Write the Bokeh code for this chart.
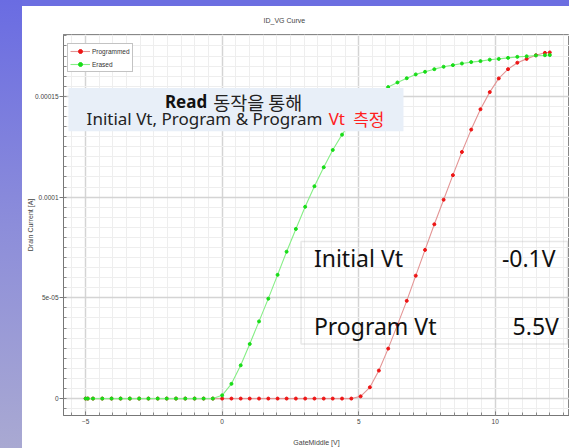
from bokeh.plotting import figure
from bokeh.models import (FixedTicker, SingleIntervalTicker, Legend, LegendItem,
                          BoxAnnotation, Label, Range1d, Div)
from bokeh.layouts import row, column
from bokeh.embed import file_html
from bokeh.resources import INLINE

# ---------------- data ----------------
gate_v = [-5.00, -4.92, -4.73, -4.39, -4.05, -3.72, -3.38, -3.04, -2.70, -2.36,
          -2.03, -1.69, -1.35, -1.01, -0.68, -0.34, 0.00, 0.34, 0.68, 1.01,
          1.35, 1.69, 2.03, 2.36, 2.70, 3.04, 3.38, 3.72, 4.05, 4.39,
          4.73, 5.07, 5.41, 5.74, 6.08, 6.42, 6.76, 7.09, 7.43, 7.77,
          8.11, 8.45, 8.78, 9.12, 9.46, 9.80, 10.13, 10.47, 10.81, 11.15,
          11.49, 11.82, 12.00]

erased = [0, 0, 0, 0, 0, 0, 0, 0, 0, 0,
          0, 0, 0, 0, 0, 0, 1.6e-6, 7.3e-6, 1.65e-5, 2.71e-5,
          3.83e-5, 4.96e-5, 6.14e-5, 7.29e-5, 8.42e-5, 9.52e-5, 1.054e-4, 1.148e-4, 1.234e-4, 1.310e-4,
          1.375e-4, 1.430e-4, 1.477e-4, 1.515e-4, 1.546e-4, 1.569e-4, 1.590e-4, 1.609e-4, 1.622e-4, 1.635e-4,
          1.647e-4, 1.655e-4, 1.663e-4, 1.670e-4, 1.675e-4, 1.682e-4, 1.686e-4, 1.691e-4, 1.696e-4, 1.699e-4,
          1.703e-4, 1.704e-4, 1.705e-4]

programmed = [0, 0, 0, 0, 0, 0, 0, 0, 0, 0,
              0, 0, 0, 0, 0, 0, 0, 0, 0, 0,
              0, 0, 0, 0, 0, 0, 0, 0, 0, 0,
              0, 1.1e-6, 5.6e-6, 1.39e-5, 2.48e-5, 3.66e-5, 4.85e-5, 6.10e-5, 7.38e-5, 8.65e-5,
              9.87e-5, 1.109e-4, 1.224e-4, 1.335e-4, 1.436e-4, 1.521e-4, 1.589e-4, 1.635e-4, 1.667e-4, 1.686e-4,
              1.704e-4, 1.716e-4, 1.718e-4]

series_names = ["Programmed", "Erased"]
y_tick_values = [0, 5e-05, 0.0001, 0.00015]
y_tick_labels = ["0", "5e-05", "0.0001", "0.00015"]

title_text = "ID_VG Curve"
x_label = "GateMiddle [V]"
y_label = "Drain Current [A]"

note_bold = "Read"
note_rest = " 동작을 통해"
note_line2 = "Initial Vt, Program & Program"
note_red1 = "Vt"
note_red2 = "측정"

table_rows = ["Initial Vt", "Program Vt"]
table_vals = ["-0.1V", "5.5V"]

# ---------------- figure ----------------
AX = "Liberation Sans"
p = figure(width=547, height=442, output_backend="svg", toolbar_location=None,
           x_range=Range1d(-5.81, 12.72), y_range=Range1d(-8.4e-6, 1.807e-4),
           min_border_left=41, min_border_right=0, min_border_top=28, min_border_bottom=32,
           background_fill_color="white", border_fill_color="white", margin=0)

# title: a trailing empty line lifts the text higher above the frame
p.title.text = title_text + "\n"
p.title.align = "left"
p.title.offset = 200
p.title.standoff = 8
p.title.text_font = AX
p.title.text_font_size = "7px"
p.title.text_font_style = "normal"
p.title.text_color = "#444444"

p.outline_line_color = "#888888"
p.outline_line_width = 1

# x axis
p.xaxis.ticker = SingleIntervalTicker(interval=5, num_minor_ticks=10)
p.xaxis.axis_label = x_label
p.xaxis.axis_label_text_font = AX
p.xaxis.axis_label_text_font_size = "7px"
p.xaxis.axis_label_text_font_style = "normal"
p.xaxis.axis_label_text_color = "#444444"
p.xaxis.axis_label_standoff = 12
p.xaxis.major_label_text_font = AX
p.xaxis.major_label_text_font_size = "6.5px"
p.xaxis.major_label_text_color = "#444444"
p.xaxis.major_label_standoff = 3
p.xaxis.major_tick_in = 4
p.xaxis.major_tick_out = 0
p.xaxis.minor_tick_in = 3
p.xaxis.minor_tick_out = 0
p.xaxis.axis_line_color = "#777777"
p.xaxis.major_tick_line_color = "#777777"
p.xaxis.minor_tick_line_color = "#888888"

# y axis
minor_y = [i * 5e-06 for i in range(-1, 37)]
p.yaxis.ticker = FixedTicker(ticks=y_tick_values, minor_ticks=minor_y)
p.yaxis.major_label_overrides = dict(zip(y_tick_values, y_tick_labels))
p.yaxis.axis_label = y_label
p.yaxis.axis_label_text_font = AX
p.yaxis.axis_label_text_font_size = "7px"
p.yaxis.axis_label_text_font_style = "normal"
p.yaxis.axis_label_text_color = "#444444"
p.yaxis.axis_label_standoff = -2
p.yaxis.major_label_text_font = AX
p.yaxis.major_label_text_font_size = "6.5px"
p.yaxis.major_label_text_color = "#444444"
p.yaxis.major_label_standoff = 1
p.yaxis.major_tick_in = 0
p.yaxis.major_tick_out = 4
p.yaxis.minor_tick_in = 3
p.yaxis.minor_tick_out = 0
p.yaxis.axis_line_color = "#777777"
p.yaxis.major_tick_line_color = "#777777"
p.yaxis.minor_tick_line_color = "#888888"

for g in (p.xgrid, p.ygrid):
    g.grid_line_color = "#d4d4d4"
    g.grid_line_width = 1.5
    g.minor_grid_line_color = "#eeeeee"
    g.minor_grid_line_width = 1

# ---------------- series ----------------
r_line = p.line(gate_v, programmed, line_color="#e39595", line_width=1.1)
r_pts = p.scatter(gate_v, programmed, marker="circle", size=3.0,
                  fill_color="#ee1515", line_color="#ee1515")
g_line = p.line(gate_v, erased, line_color="#86ee86", line_width=1.1)
g_pts = p.scatter(gate_v, erased, marker="circle", size=3.0,
                  fill_color="#18dd18", line_color="#18dd18")

legend = Legend(items=[LegendItem(label=series_names[0], renderers=[r_line, r_pts]),
                       LegendItem(label=series_names[1], renderers=[g_line, g_pts])],
                location=(4, 343), margin=0, padding=2, spacing=3,
                glyph_width=20, glyph_height=10, label_height=10, label_standoff=2,
                label_text_font=AX, label_text_font_size="6.5px",
                label_text_color="#333333",
                border_line_color="#888888", border_line_width=1,
                background_fill_color="white", background_fill_alpha=1)
p.add_layout(legend)

# ---------------- annotation box (top) ----------------
p.add_layout(BoxAnnotation(left=-5.63, right=6.64, bottom=1.327e-4, top=1.541e-4,
                           fill_color="#e8eff8", fill_alpha=1, line_color=None))

KR = "Noto Sans CJK KR"
LAT = "Noto Sans"
p.add_layout(Label(x=-0.55, y=1.472e-4, text=note_bold, text_font=LAT, text_font_size="17px",
                   text_font_style="bold", text_color="#111111",
                   text_align="right", text_baseline="middle"))
p.add_layout(Label(x=-0.33, y=1.472e-4, text=note_rest, text_font=KR, text_font_size="18.5px",
                   text_color="#222222", text_align="left", text_baseline="middle"))
p.add_layout(Label(x=3.67, y=1.389e-4, text=note_line2, text_font=LAT, text_font_size="17px",
                   text_color="#222222", text_align="right", text_baseline="middle"))
p.add_layout(Label(x=3.90, y=1.389e-4, text=note_red1, text_font=LAT, text_font_size="17px",
                   text_color="#ff2020", text_align="left", text_baseline="middle"))
p.add_layout(Label(x=4.80, y=1.389e-4, text=note_red2, text_font=KR, text_font_size="17px",
                   text_color="#ff2020", text_align="left", text_baseline="middle"))

# ---------------- table box (right) ----------------
p.add_layout(BoxAnnotation(left=2.89, right=12.65, bottom=2.71e-5, top=7.79e-5,
                           fill_alpha=0, line_color="#b4b4b4", line_width=1.5))
row_y = [6.96e-5, 3.58e-5]
val_x = [12.21, 12.33]
for i in range(2):
    p.add_layout(Label(x=3.36, y=row_y[i], text=table_rows[i], text_font=LAT,
                       text_font_size="23px", text_color="#111111",
                       text_align="left", text_baseline="middle"))
    p.add_layout(Label(x=val_x[i], y=row_y[i], text=table_vals[i], text_font=LAT,
                       text_font_size="23px", text_color="#111111",
                       text_align="right", text_baseline="middle"))

# ---------------- slide background strips ----------------
left_strip = Div(text="", width=22, height=448, margin=0,
                 styles={"background": "linear-gradient(180deg, #6a6ce2 0%, #8c8dda 50%, #a9a9d2 100%)"})
top_strip = Div(text="", width=547, height=6, margin=0,
                styles={"background": "#6c6ee1"})

layout = row(left_strip, column(top_strip, p, spacing=0, margin=0), spacing=0, margin=0)
open("out.html", "w").write(file_html(layout, INLINE))
